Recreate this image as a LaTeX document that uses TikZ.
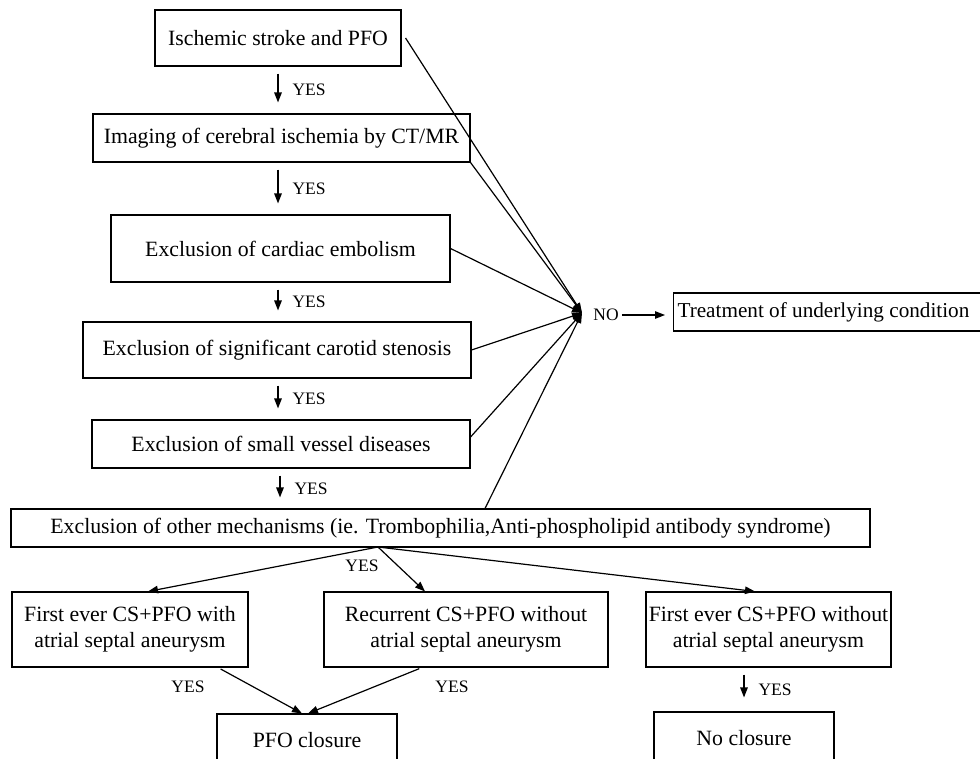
\documentclass[tikz,border=0pt]{standalone}
\usepackage{fontspec}
\setmainfont{Liberation Serif}
\usetikzlibrary{arrows.meta}

\begin{document}
\begin{tikzpicture}[x=1pt,y=-1pt,
  box/.style={draw,line width=1.1pt,inner sep=0pt,align=center,font=\fontsize{21.8}{26.5}\selectfont},
  arr/.style={-{Triangle[length=10pt,width=7.5pt]},line width=1.2pt},
  yesarr/.style={arr,shorten <=7pt,shorten >=11pt},
  lbl/.style={font=\fontsize{17.5}{20}\selectfont,inner sep=0pt}]
\useasboundingbox (0,0) rectangle (980,758);
\clip (0,0) rectangle (980,758);
\node[box,minimum width=246,minimum height=56] (n1) at (278,38) {Ischemic stroke and PFO};
\node[box,minimum width=377,minimum height=48] (n2) at (281.5,138) {Imaging of cerebral ischemia by CT/MR};
\node[box,minimum width=339,minimum height=67] (n3) at (280.5,248.5) {Exclusion of cardiac embolism};
\node[box,minimum width=388,minimum height=56] (n4) at (277,350) {Exclusion of significant carotid stenosis};
\node[box,minimum width=378,minimum height=48] (n5) at (281,444) {Exclusion of small vessel diseases};
\node[box,minimum width=859,minimum height=38] (n6) at (440.5,528) {Exclusion of other mechanisms (ie. Trombophilia,Anti-phospholipid antibody syndrome)};
\node[box,minimum width=236,minimum height=75] (n7) at (130,629.5) {First ever CS+PFO with\\atrial septal aneurysm};
\node[box,minimum width=284,minimum height=75] (n8) at (466,629.5) {Recurrent CS+PFO without\\atrial septal aneurysm};
\node[box,minimum width=245,minimum height=75] (n9) at (768.5,629.5) {First ever CS+PFO without\\atrial septal aneurysm};
\node[box,minimum width=180,minimum height=52] (n10) at (307,740) {PFO closure};
\node[box,minimum width=180,minimum height=52] (n11) at (744,738) {No closure};
\node[box,anchor=west,inner xsep=4pt,text width=330,align=flush left,minimum height=38,font=\fontsize{21.2}{26}\selectfont] (n12) at (673,312) {Treatment of underlying condition};
\node[lbl] (no) at (606,315) {NO};
\coordinate (cv) at (582,313);
\coordinate (br) at (378,547);
% yes chain
\draw[yesarr] (n1.south) -- (n1.south |- n2.north) node[lbl,midway,right=14pt] (y1) {YES};
\draw[yesarr] (n1.south |- n2.south) -- (n1.south |- n3.north) node[lbl,midway,right=14pt] (y2) {YES};
\draw[yesarr] (n1.south |- n3.south) -- (n1.south |- n4.north) node[lbl,midway,right=14pt] (y3) {YES};
\draw[yesarr] (n1.south |- n4.south) -- (n1.south |- n5.north) node[lbl,midway,right=14pt] (y4) {YES};
\draw[yesarr] ([xshift=2pt]n1.south |- n5.south) -- ([xshift=2pt]n1.south |- n6.north) node[lbl,midway,right=14pt] (y5) {YES};
% no branch
\draw[arr] ([xshift=4pt]n1.east) -- (cv);
\draw[arr] (n2.south east) -- (cv);
\draw[arr] (n3.east) -- (cv);
\draw[arr] (n4.east) -- (cv);
\draw[arr] ([yshift=7pt]n5.east) -- (cv);
\draw[arr] ([xshift=44.5pt]n6.north) -- (cv);
\draw[arr,shorten <=3pt,shorten >=8pt] (no.east) -- (no.east -| n12.west);
% last step
\draw[arr] (br) -- ([xshift=18pt]n7.north);
\draw[arr] (br) -- ([xshift=-41pt]n8.north);
\draw[arr] (br) -- ([xshift=-13.5pt]n9.north);
\node[lbl] (y6) at (362,566) {YES};
\draw[arr,shorten <=3pt] ([xshift=88pt]n7.south) -- ([xshift=-5pt]n10.north);
\draw[arr,shorten <=3pt] ([xshift=-44pt]n8.south) -- ([xshift=1pt]n10.north);
\node[lbl] (y7) at (188,687) {YES};
\node[lbl] (y8) at (452,687) {YES};
\draw[yesarr,shorten >=14pt] (n11.north |- n9.south) -- (n11.north) node[lbl,midway,right=14pt] (y9) {YES};
\end{tikzpicture}
\end{document}
